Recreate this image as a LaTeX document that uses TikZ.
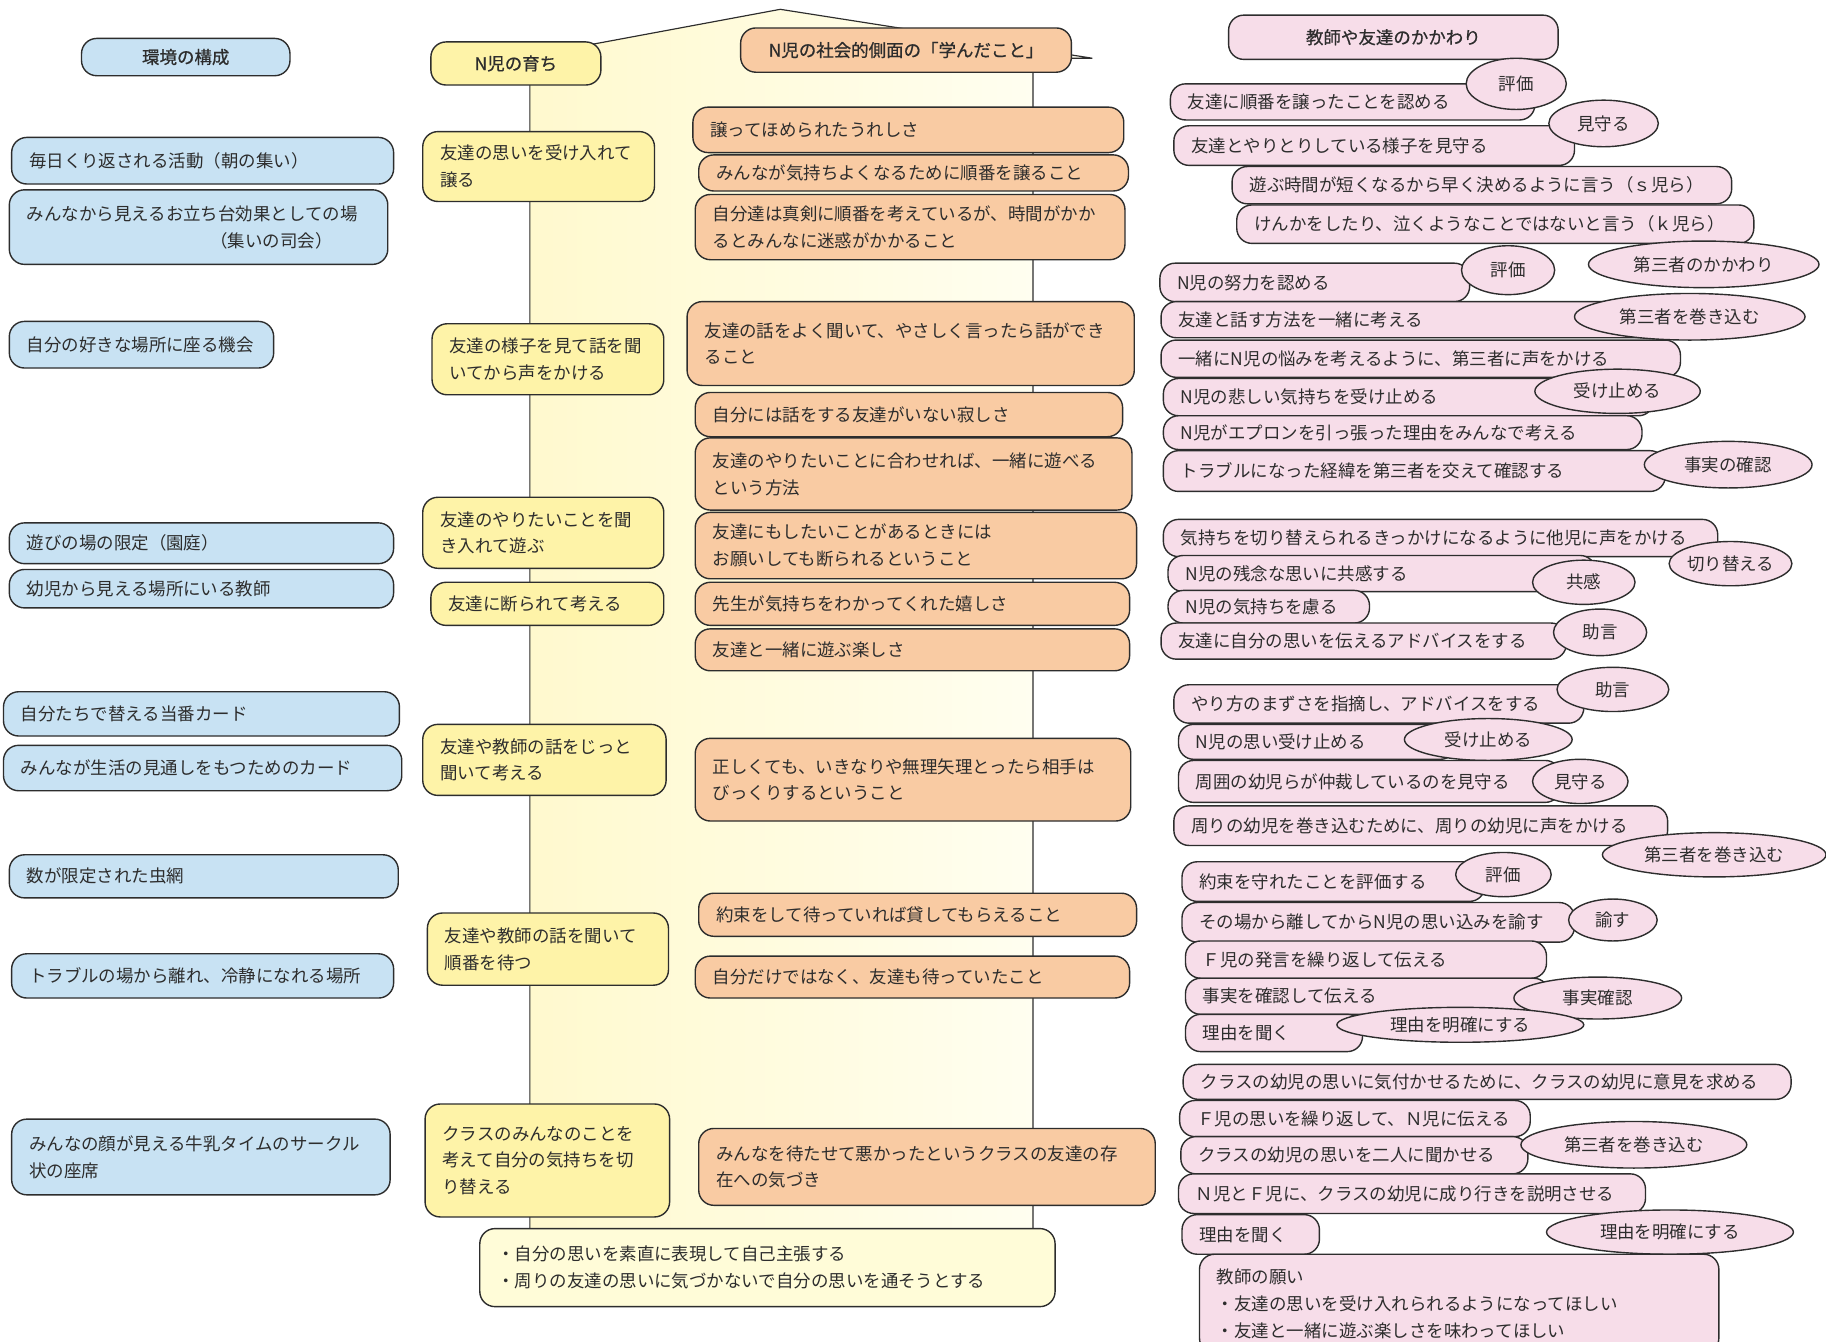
\documentclass[tikz,border=0pt]{standalone}
\usepackage{fontspec}
\newfontfamily\jp{Noto Sans CJK JP}
\newfontfamily\jpb[FakeBold=0.7]{Noto Sans CJK JP}
\usetikzlibrary{shapes.geometric}

\definecolor{envblue}{RGB}{200,226,243}
\definecolor{growyel}{RGB}{254,243,168}
\definecolor{learnorg}{RGB}{249,203,163}
\definecolor{tchpink}{RGB}{247,221,233}
\definecolor{inkc}{RGB}{45,45,45}
\definecolor{bandyel}{RGB}{255,249,206}
\definecolor{bandwht}{RGB}{255,255,244}
\definecolor{basepale}{RGB}{255,252,216}

\tikzset{
  card/.style={draw=inkc, line width=1.2pt, rounded corners=13pt,
    inner xsep=15pt, inner ysep=0pt, align=left,
    font=\jp\fontsize{15}{23}\selectfont, text=inkc},
  envcard/.style={card, fill=envblue},
  growcard/.style={card, fill=growyel},
  learncard/.style={card, fill=learnorg},
  tchcard/.style={card, fill=tchpink},
  headcard/.style={card, align=center, font=\jpb\fontsize{15}{23}\selectfont},
  tag/.style={ellipse, draw=inkc, line width=1.2pt, fill=tchpink, inner sep=0pt,
    font=\jp\fontsize{15}{18}\selectfont, text=inkc},
}

% rounded card from corner (x1,y1) to (x2,y2): style, name, x1, y1, x2, y2, text
\newcommand\mkcard[7]{%
  \pgfmathsetmacro\cardw{#5-#3}%
  \pgfmathsetmacro\cardh{#6-#4}%
  \pgfmathsetmacro\cardt{#5-#3-30}%
  \node[#1, minimum width=\cardw pt, minimum height=\cardh pt, text width=\cardt pt]
    (#2) at ({(#3+#5)/2},{(#4+#6)/2}) {#7};}
% oval tag: name, cx, cy, rx, ry, text
\newcommand\mktag[6]{%
  \pgfmathsetmacro\tagw{2*#4}%
  \pgfmathsetmacro\tagh{2*#5}%
  \node[tag, minimum width=\tagw pt, minimum height=\tagh pt] (#1) at (#2,#3) {#6};}

\begin{document}
\begin{tikzpicture}[x=1pt, y=-1pt]
\useasboundingbox (0,0) rectangle (1568,1152);
\clip (0,0) rectangle (1568,1152);
\fill[white] (0,0) rectangle (1568,1152);

% the growth band with its pointed roof
\path[draw=inkc, line width=1pt, left color=bandyel, right color=bandwht]
  (455,1080) -- (455,48) -- (670,8) -- (938,50) -- (887,50) -- (887,1080) -- cycle;

% environment column
\mkcard{envcard}{e1}{10}{118}{338}{158}{毎日くり返される活動（朝の集い）}
\mkcard{envcard}{e2}{8}{163}{333}{227}{みんなから見えるお立ち台効果としての場\\\hspace*{10.5em}（集いの司会）}
\mkcard{envcard}{e3}{8}{276}{235}{316}{自分の好きな場所に座る機会}
\mkcard{envcard}{e4}{8}{449}{338}{484}{遊びの場の限定（園庭）}
\mkcard{envcard}{e5}{8}{489}{338}{522}{幼児から見える場所にいる教師}
\mkcard{envcard}{e6}{3}{594}{343}{632}{自分たちで替える当番カード}
\mkcard{envcard}{e7}{3}{640}{345}{679}{みんなが生活の見通しをもつためのカード}
\mkcard{envcard}{e8}{8}{734}{342}{771}{数が限定された虫網}
\mkcard{envcard}{e9}{10}{819}{338}{857}{トラブルの場から離れ、冷静になれる場所}
\mkcard{envcard}{e10}{10}{961}{335}{1026}{みんなの顔が見える牛乳タイムのサークル\\状の座席}

% growth column
\mkcard{growcard}{g1}{363}{113}{562}{173}{友達の思いを受け入れて\\譲る}
\mkcard{growcard}{g2}{371}{278}{570}{339}{友達の様子を見て話を聞\\いてから声をかける}
\mkcard{growcard}{g3}{363}{427}{570}{488}{友達のやりたいことを聞\\き入れて遊ぶ}
\mkcard{growcard}{g4}{370}{500}{570}{537}{友達に断られて考える}
\mkcard{growcard}{g5}{363}{622}{572}{683}{友達や教師の話をじっと\\聞いて考える}
\mkcard{growcard}{g6}{367}{784}{574}{846}{友達や教師の話を聞いて\\順番を待つ}
\mkcard{growcard}{g7}{365}{948}{575}{1045}{クラスのみんなのことを\\考えて自分の気持ちを切\\り替える}

% learning column
\mkcard{learncard}{l1}{595}{92}{965}{131}{譲ってほめられたうれしさ}
\mkcard{learncard}{l2}{600}{133}{969}{164}{みんなが気持ちよくなるために順番を譲ること}
\mkcard{learncard}{l3}{597}{167}{966}{223}{自分達は真剣に順番を考えているが、時間がかか\\るとみんなに迷惑がかかること}
\mkcard{learncard}{l4}{590}{259}{974}{331}{友達の話をよく聞いて、やさしく言ったら話ができ\\ること}
\mkcard{learncard}{l5}{597}{337}{964}{375}{自分には話をする友達がいない寂しさ}
\mkcard{learncard}{l6}{597}{376}{972}{438}{友達のやりたいことに合わせれば、一緒に遊べる\\という方法}
\mkcard{learncard}{l7}{597}{440}{976}{497}{友達にもしたいことがあるときには\\お願いしても断られるということ}
\mkcard{learncard}{l8}{597}{500}{970}{537}{先生が気持ちをわかってくれた嬉しさ}
\mkcard{learncard}{l9}{597}{540}{970}{576}{友達と一緒に遊ぶ楽しさ}
\mkcard{learncard}{l10}{597}{634}{971}{705}{正しくても、いきなりや無理矢理とったら相手は\\びっくりするということ}
\mkcard{learncard}{l11}{600}{767}{976}{804}{約束をして待っていれば貸してもらえること}
\mkcard{learncard}{l12}{597}{821}{970}{857}{自分だけではなく、友達も待っていたこと}
\mkcard{learncard}{l13}{600}{969}{992}{1035}{みんなを待たせて悪かったというクラスの友達の存\\在への気づき}

% outcome at the foot of the band
\mkcard{card, fill=basepale}{base}{412}{1055}{906}{1122}{・自分の思いを素直に表現して自己主張する\\・周りの友達の思いに気づかないで自分の思いを通そうとする}

% column headings
\mkcard{headcard, fill=envblue}{hEnv}{70}{33}{249}{65}{環境の構成}
\mkcard{headcard, fill=growyel}{hGrow}{370}{36}{516}{73}{N児の育ち}
\mkcard{headcard, fill=learnorg}{hLearn}{636}{24}{920}{62}{N児の社会的側面の「学んだこと」}
\mkcard{headcard, fill=tchpink}{hTch}{1055}{13}{1338}{51}{教師や友達のかかわり}

% teacher and friends column
\mkcard{tchcard}{p1}{1005}{72}{1318}{103}{友達に順番を譲ったことを認める}
\mktag{t1}{1302}{72}{43}{22}{評価}
\mkcard{tchcard}{p2}{1008}{108}{1352}{142}{友達とやりとりしている様子を見守る}
\mktag{t2}{1377}{106}{47}{20}{見守る}
\mkcard{tchcard}{p3}{1058}{143}{1487}{175}{遊ぶ時間が短くなるから早く決めるように言う（ｓ児ら）}
\mkcard{tchcard}{p4}{1062}{176}{1506}{209}{けんかをしたり、泣くようなことではないと言う（ｋ児ら）}
\mktag{t4}{1463}{227}{99}{20}{第三者のかかわり}
\mkcard{tchcard}{p5}{996}{226}{1262}{259}{N児の努力を認める}
\mktag{t3}{1295}{232}{40}{21}{評価}
\mkcard{tchcard}{p6}{997}{259}{1470}{290}{友達と話す方法を一緒に考える}
\mktag{t5}{1451}{272}{99}{20}{第三者を巻き込む}
\mkcard{tchcard}{p7}{997}{292}{1443}{324}{一緒にN児の悩みを考えるように、第三者に声をかける}
\mkcard{tchcard}{p8}{999}{325}{1420}{357}{N児の悲しい気持ちを受け止める}
\mktag{t6}{1389}{336}{71}{19}{受け止める}
\mkcard{tchcard}{p9}{999}{357}{1410}{386}{N児がエプロンを引っ張った理由をみんなで考える}
\mkcard{tchcard}{p10}{999}{387}{1430}{422}{トラブルになった経緯を第三者を交えて確認する}
\mktag{t7}{1484}{399}{72}{20}{事実の確認}

\mkcard{tchcard}{p11}{999}{446}{1475}{478}{気持ちを切り替えられるきっかけになるように他児に声をかける}
\mktag{t8}{1486}{484}{52}{19}{切り替える}
\mkcard{tchcard}{p12}{1003}{477}{1370}{508}{N児の残念な思いに共感する}
\mktag{t9}{1360}{500}{44}{19}{共感}
\mkcard{tchcard}{p13}{1003}{507}{1176}{535}{N児の気持ちを慮る}
\mkcard{tchcard}{p14}{997}{535}{1345}{566}{友達に自分の思いを伝えるアドバイスをする}
\mktag{t10}{1374}{543}{40}{20}{助言}

\mkcard{tchcard}{p15}{1008}{588}{1360}{621}{やり方のまずさを指摘し、アドバイスをする}
\mktag{t11}{1385}{592}{48}{19}{助言}
\mkcard{tchcard}{p16}{1012}{622}{1250}{652}{N児の思い受け止める}
\mktag{t12}{1278}{635}{72}{18}{受け止める}
\mkcard{tchcard}{p17}{1012}{653}{1340}{689}{周囲の幼児らが仲裁しているのを見守る}
\mktag{t13}{1357}{671}{41}{19}{見守る}
\mkcard{tchcard}{p18}{1008}{692}{1432}{726}{周りの幼児を巻き込むために、周りの幼児に声をかける}
\mktag{t14}{1472}{734}{96}{19}{第三者を巻き込む}
\mkcard{tchcard}{p19}{1015}{740}{1275}{774}{約束を守れたことを評価する}
\mktag{t15}{1291}{751}{41}{19}{評価}
\mkcard{tchcard}{p20}{1015}{775}{1352}{809}{その場から離してからN児の思い込みを諭す}
\mktag{t16}{1385}{790}{38}{18}{諭す}
\mkcard{tchcard}{p21}{1018}{808}{1328}{840}{Ｆ児の発言を繰り返して伝える}
\mkcard{tchcard}{p22}{1018}{840}{1330}{871}{事実を確認して伝える}
\mktag{t17}{1372}{857}{72}{18}{事実確認}
\mkcard{tchcard}{p23}{1018}{871}{1170}{903}{理由を聞く}
\mktag{t18}{1254}{880}{106}{15}{理由を明確にする}

\mkcard{tchcard}{p24}{1016}{914}{1538}{944}{クラスの幼児の思いに気付かせるために、クラスの幼児に意見を求める}
\mkcard{tchcard}{p25}{1013}{945}{1314}{976}{Ｆ児の思いを繰り返して、Ｎ児に伝える}
\mkcard{tchcard}{p26}{1014}{976}{1312}{1008}{クラスの幼児の思いを二人に聞かせる}
\mktag{t19}{1403}{983}{97}{20}{第三者を巻き込む}
\mkcard{tchcard}{p27}{1012}{1008}{1413}{1042}{Ｎ児とＦ児に、クラスの幼児に成り行きを説明させる}
\mkcard{tchcard}{p28}{1015}{1043}{1133}{1077}{理由を聞く}
\mktag{t20}{1434}{1058}{106}{19}{理由を明確にする}
\mkcard{tchcard}{p29}{1030}{1077}{1476}{1162}{教師の願い\\・友達の思いを受け入れられるようになってほしい\\・友達と一緒に遊ぶ楽しさを味わってほしい}
\end{tikzpicture}
\end{document}
